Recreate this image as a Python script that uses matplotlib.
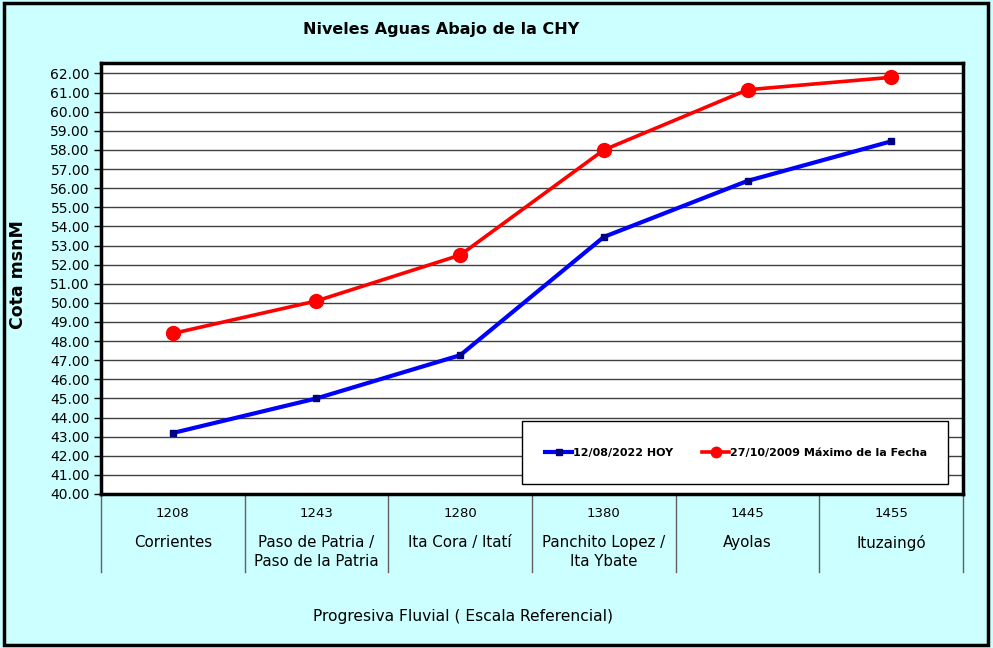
import matplotlib
matplotlib.use('Agg')
import matplotlib.pyplot as plt
from matplotlib.patches import Rectangle
from matplotlib.transforms import blended_transform_factory

plt.rcParams['font.family'] = ['DejaVu Sans']

# datos
progresivas = ['1208', '1243', '1280', '1380', '1445', '1455']
estaciones = ['Corrientes', 'Paso de Patria /\nPaso de la Patria', 'Ita Cora / Itatí',
              'Panchito Lopez /\nIta Ybate', 'Ayolas', 'Ituzaingó']
nivel_hoy = [43.19, 45.00, 47.26, 53.45, 56.38, 58.45]
nivel_max = [48.40, 50.10, 52.50, 58.00, 61.15, 61.80]
nombre_hoy = '12/08/2022 HOY'
nombre_max = '27/10/2009 Máximo de la Fecha'

fondo = '#CCFFFF'

fig = plt.figure(figsize=(9.93, 6.48), dpi=100, facecolor=fondo)
ax = fig.add_axes([0.1017, 0.2377, 0.8681, 0.6651])
ax.set_facecolor('white')

x = [i + 0.5 for i in range(len(progresivas))]

ax.plot(x, nivel_hoy, color='#0000FF', lw=3, marker='s', markersize=5,
        markerfacecolor='#000080', markeredgecolor='#000080', label=nombre_hoy, zorder=3)
ax.plot(x, nivel_max, color='#FF0000', lw=2.6, marker='o', markersize=10,
        markerfacecolor='#FF0000', markeredgecolor='#FF0000', label=nombre_max, zorder=3)

ax.set_xlim(0, len(progresivas))
ax.set_ylim(40, 62.55)
ax.set_yticks(range(40, 63))
ax.set_yticklabels(['%.2f' % v for v in range(40, 63)], fontsize=10)
ax.set_xticks([])
ax.tick_params(axis='y', direction='out', length=5, width=1, color='black', pad=3)
for v in range(41, 63):
    ax.axhline(v, color='#404040', lw=1, zorder=1)
for s in ax.spines.values():
    s.set_linewidth(2.5)
    s.set_color('black')

# eje de categorias
trans = blended_transform_factory(ax.transData, ax.transAxes)
for i in range(len(progresivas) + 1):
    ax.plot([i, i], [0, -0.18], transform=trans, color='#606060', lw=1, clip_on=False)
for i in range(len(progresivas)):
    ax.text(x[i], -0.046, progresivas[i], transform=trans, ha='center', va='center', fontsize=9.5)
    for j, linea in enumerate(estaciones[i].split('\n')):
        ax.text(x[i], -0.1134 - 0.044 * j, linea, transform=trans, ha='center', va='center',
                fontsize=10.8)

# leyenda
ax.add_patch(Rectangle((0.488, 0.023), 0.4945, 0.146, transform=ax.transAxes,
                       facecolor='white', edgecolor='black', lw=1, zorder=4))
leg = ax.legend(loc='center', bbox_to_anchor=(0.737, 0.096), ncol=2, frameon=False,
                prop={'size': 8.0, 'weight': 'bold'}, handlelength=2.4, handletextpad=0.1,
                columnspacing=2.6, markerscale=0.75)
leg.set_zorder(5)

fig.text(0.444, 0.955, 'Niveles Aguas Abajo de la CHY', ha='center', va='center',
         fontsize=11.5, fontweight='bold')
fig.text(0.466, 0.049, 'Progresiva Fluvial ( Escala Referencial)', ha='center', va='center',
         fontsize=11.2)
fig.text(0.018, 0.5756, 'Cota msnM', ha='center', va='center', rotation=90,
         fontsize=12.5, fontweight='bold')

fig.patches.append(Rectangle((0.004, 0.005), 0.991, 0.99, transform=fig.transFigure,
                             fill=False, edgecolor='black', lw=2.5))

fig.savefig('out.png', dpi=100, facecolor=fondo)
